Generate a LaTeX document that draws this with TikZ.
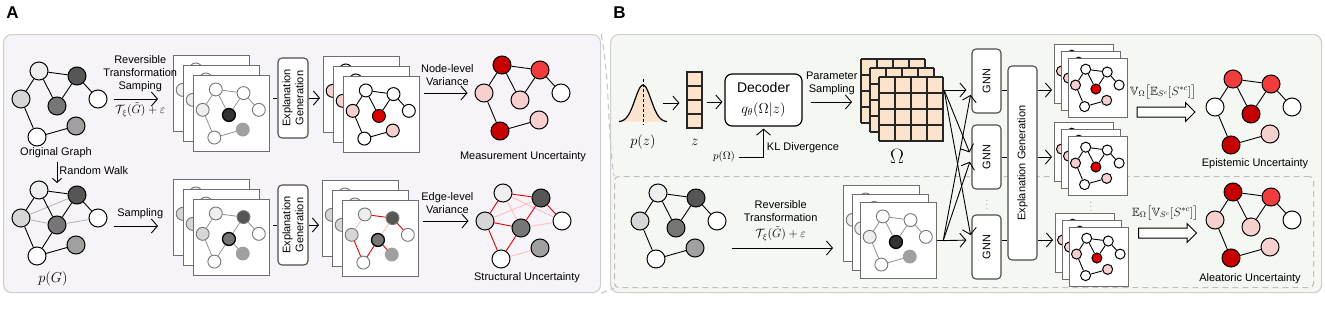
\documentclass[tikz,border=0pt]{standalone}
\usepackage{amsmath,amssymb}
\usepackage{fontspec}
\setsansfont{Liberation Sans}
\usetikzlibrary{arrows.meta,positioning,calc,shapes.arrows}
\definecolor{bgA}{HTML}{F6F4F8}
\definecolor{bgB}{HTML}{F5F8F2}
\definecolor{frm}{HTML}{CFCFCF}
\definecolor{shc}{HTML}{6E6E6E}
\definecolor{bxc}{HTML}{4D4D4D}
\definecolor{g1}{HTML}{EEEEEE}
\definecolor{g2}{HTML}{D6D6D6}
\definecolor{g3}{HTML}{A0A0A0}
\definecolor{g4}{HTML}{767676}
\definecolor{g5}{HTML}{565656}
\definecolor{g6}{HTML}{333333}
\definecolor{pnk}{HTML}{F6CFCF}
\definecolor{rd}{HTML}{F03C3C}
\definecolor{rdk}{HTML}{C60000}
\definecolor{rdd}{HTML}{DD0000}
\definecolor{peach}{HTML}{FCE4CC}

\newcommand{\ugraph}[6]{%
  \begin{scope}[shift={#2}]
    \foreach \k/\px/\py in {1/0/0,2/38/5,3/-18/28,4/18/35,5/59/28,6/37/55,7/-2/66}
      \coordinate (#1p\k) at ({(#3)*(\px)},{(#3)*(\py)});
    \foreach \k/\fc/\ns in {#5}
      \node[vtx,\ns,minimum size=#4,fill=\fc] (#1\k) at (#1p\k) {};
    \foreach \a/\b/\ec in {#6}
      \draw[\ec] (#1\a) -- (#1\b);
  \end{scope}}

\newcommand{\gstack}[6]{%
  \foreach \l in {0,1,2}{
    \node[sheet,minimum size=#3,anchor=north west] (#1s\l) at ($#2+(\l*#4,\l*#4)$) {};
    \ugraph{#1\l}{($(#1s\l.north west)+(0.3*#3,0.19*#3)$)}{0.0096*#3}{0.17*#3}{#5}{#6}
  }}

\begin{document}
\begin{tikzpicture}[x=1pt,y=-1pt,
  every node/.style={font=\sffamily\fontsize{11}{13}\selectfont},
  panel/.style={draw=frm,line width=1.2pt,rounded corners=8pt,anchor=north west,inner sep=0},
  dbox/.style={draw=black!25,dashed,dash pattern=on 6pt off 4pt,line width=1.1pt,rounded corners=4pt,anchor=north west,inner sep=0},
  zln/.style={draw=black!22,dashed,dash pattern=on 6pt off 4pt,line width=1.1pt},
  sheet/.style={draw=shc,line width=1.2pt,fill=white,inner sep=0},
  vtx/.style={circle,inner sep=0},
  vB/.style={draw=black,line width=1pt},
  vG/.style={draw=g4,line width=0.9pt},
  vK/.style={draw=black,line width=1.3pt},
  vN/.style={draw=g3,line width=0.9pt},
  eBk/.style={draw=black,line width=0.9pt},
  eGy/.style={draw=g4!80,line width=0.8pt},
  eRd/.style={draw=red!90!black,line width=0.9pt},
  ePk/.style={draw=red!25,line width=0.9pt},
  eLt/.style={draw=black!30,line width=0.8pt},
  arr/.style={-{Straight Barb[length=6pt,width=14pt]},line width=0.9pt},
  sarr/.style={-{Straight Barb[length=4pt,width=9pt]},line width=0.9pt},
  rbox/.style={draw=bxc,line width=1.1pt,rounded corners=4pt,fill=white,inner sep=0,rotate=90,align=center},
  cell/.style={draw=black!85,line width=1.1pt,fill=peach,minimum width=15,minimum height=14,inner sep=0},
  omg/.style={draw=black!85,line width=1.1pt,fill=peach,minimum size=64,inner sep=0,anchor=north west},
  hol/.style={single arrow,draw=black,line width=1pt,fill=white,minimum height=58,inner xsep=0,inner ysep=4.5pt,single arrow head extend=4.5pt},
  mth/.style={font=\fontsize{15}{15}\selectfont}]
\useasboundingbox (0,0) rectangle (1325,324);

\node[panel,fill=bgA,minimum width=597,minimum height=258] (pA) at (3,34) {};
\node[panel,fill=bgB,minimum width=711,minimum height=258] (pB) at (610,34) {};
\node[dbox,minimum width=699,minimum height=111] (db) at (614,176) {};
\draw[zln] (pA.north east) to[out=-80,in=98] (db.north west);
\draw[zln] (pA.south east) -- (db.south west);
\node[font=\sffamily\bfseries\fontsize{17}{17}\selectfont] (lA) at (12.5,12.5) {A};
\node[font=\sffamily\bfseries\fontsize{17}{17}\selectfont] (lB) at (619.5,12.5) {B};

\ugraph{og}{(39,71)}{1}{18}{1/g1/vB,2/g5/vB,3/g2/vB,4/g4/vB,5/white/vB,6/g3/vB,7/white/vB}{1/2/eBk,1/3/eBk,1/4/eBk,2/4/eBk,2/5/eBk,3/7/eBk,7/6/eBk}
\node (oglab) at (56,153) {Original Graph};
\coordinate (rw) at (57,183);
\draw[sarr] (rw |- oglab.south) -- (rw) node[pos=0.4,right=1pt,inner sep=1pt] {Random Walk};

\gstack{sA}{(173,55)}{76}{10}{1/white/vG,2/white/vG,3/g1/vG,4/g6/vK,5/white/vG,6/g3/vN,7/white/vG}{1/2/eGy,1/3/eGy,1/4/eGy,2/4/eGy,2/5/eGy,3/7/eGy,7/6/eGy}
\draw[arr,shorten <=6pt,shorten >=15pt] (og5.east) -- (sAs0.west |- og5.east)
  node[midway,above=3pt,align=center] {Reversible\\Transformation\\Samping}
  node[midway,below=3pt,inner sep=0,font=\fontsize{12}{12}\selectfont] {$\mathcal{T}_{\kern1pt\xi}(\tilde{G})+\varepsilon$};
\node[rbox,minimum width=80,minimum height=30] (exA) at (293,98) {Explanation\\Generation};
\draw[line width=0.9pt,shorten <=3pt] (sAs2.east |- exA.north) -- (exA.north);
\gstack{sR}{(323,56)}{76}{10}{1/white/vB,2/white/vB,3/pnk/vB,4/rdd/vB,5/white/vB,6/pnk/vB,7/white/vB}{1/2/eBk,1/3/eBk,1/4/eBk,2/4/eBk,2/5/eBk,3/7/eBk,7/6/eBk}
\draw[arr,shorten >=3pt] (exA.south) -- (sRs0.west |- exA.south);

\ugraph{mu}{(502,65)}{1}{18}{1/rdk/vB,2/rd/vB,3/pnk/vB,4/pnk/vB,5/white/vB,6/pnk/vB,7/rdk/vB}{1/2/eBk,1/3/eBk,1/4/eBk,2/4/eBk,2/5/eBk,3/7/eBk,7/6/eBk}
\node (mulab) at (523,157) {Measurement Uncertainty};
\draw[arr,shorten <=4pt,shorten >=7pt] (sRs2.east |- mu3) -- (mu3.west)
  node[midway,above=4pt,align=center] {Node-level\\Variance};

\ugraph{pg}{(39,190)}{1}{18}{1/g1/vB,2/g5/vB,3/g2/vB,4/g4/vB,5/white/vB,6/g3/vB,7/white/vB}{3/2/eLt,3/4/eLt,4/5/eLt,1/2/eBk,1/3/eBk,1/4/eBk,2/4/eBk,2/5/eBk,3/7/eBk,7/4/eBk,7/6/eBk}
\node[mth] (pglab) at (53,279) {$p(G)$};

\gstack{sC}{(173,179)}{76}{10}{1/g1/vG,2/g5/vG,3/g2/vG,4/g4/vK,5/white/vG,6/g3/vN,7/white/vG}{1/2/eGy,1/3/eGy,2/4/eGy,2/5/eGy,3/7/eGy,7/4/eGy,4/6/eGy}
\draw[arr,shorten <=6pt,shorten >=15pt] (pg5.east |- 0,226) -- (sCs0.west |- 0,226)
  node[midway,above=3pt] {Sampling};
\node[rbox,minimum width=80,minimum height=30] (exB) at (293,225) {Explanation\\Generation};
\draw[line width=0.9pt,shorten <=3pt] (sCs2.east |- exB.north) -- (exB.north);
\gstack{sS}{(322,180)}{76}{10}{1/g1/vG,2/g5/vG,3/g2/vG,4/g4/vK,5/white/vG,6/g3/vN,7/white/vG}{1/2/eRd,1/3/ePk,2/4/ePk,2/5/eRd,3/7/eRd,7/4/eRd,4/6/eRd}
\draw[arr,shorten >=3pt] (exB.south) -- (sSs0.west |- exB.south);

\ugraph{st}{(503,193)}{1}{18}{1/g1/vB,2/g5/vB,3/g2/vB,4/g4/vB,5/white/vB,6/g3/vB,7/white/vB}{1/4/ePk,1/5/ePk,3/2/ePk,4/5/ePk,7/6/ePk,1/2/eRd,1/3/eRd,2/4/eRd,2/5/eRd,3/7/eRd,7/4/eRd,3/4/eRd}
\node (stlab) at (527,278) {Structural Uncertainty};
\draw[arr,shorten <=4pt,shorten >=7pt] (sSs2.east |- st3) -- (st3.west)
  node[midway,above=4pt,align=center] {Edge-level\\Variance};

\fill[peach] plot[domain=-24:24,samples=60] ({643+\x},{122-37*exp(-(\x*\x)/128)}) -- cycle;
\draw[line width=1.2pt] plot[domain=-24:24,samples=60] ({643+\x},{122-37*exp(-(\x*\x)/128)});
\draw[dashed,dash pattern=on 3pt off 2pt,line width=0.8pt] (643,79) -- (643,125);
\node[minimum width=40,minimum height=44,inner sep=0] (gs) at (643,103) {};
\node[mth] (pz) at (643,142) {$p(z)$};
\foreach \i in {0,...,3}
  \node[cell] (z\i) at (694.5,{79+14*\i}) {};
\node[mth] (zlab) at (695,142) {$z$};
\draw[arr,shorten >=7pt] (gs.east) -- (z0.west |- gs.east);
\node[draw,line width=1.2pt,rounded corners=7pt,fill=white,minimum width=77,minimum height=52,align=center,
  font=\sffamily\fontsize{14}{21}\selectfont] (dec) at (763.5,100) {Decoder\\$q_\theta(\Omega|z)$};
\draw[arr,shorten <=4pt,shorten >=2pt] (z1.east |- 0,102) -- (dec.west |- 0,102);
\node[font=\fontsize{11}{11}\selectfont] (pO) at (724,157) {$p(\Omega)$};
\draw[arr,shorten >=2pt] (pO.east) -| (dec.south) node[pos=0.66,right=2pt,inner sep=1pt] {KL Divergence};
\foreach \l in {0,1,2}{
  \node[omg] (om\l) at ({861+9*\l},{59+9*\l}) {};
  \begin{scope}[shift={(om\l.north west)}]
    \draw[draw=black!85,line width=1.1pt] (0pt,0pt) grid[step=16pt] (64pt,-64pt);
  \end{scope}
}
\node[font=\fontsize{20}{20}\selectfont] (omlab) at (897,156) {$\Omega$};
\draw[arr,shorten <=8pt,shorten >=9pt] (dec.east |- 0,102) -- (om0.west |- 0,102)
  node[midway,above=3pt,align=center] {Parameter\\Sampling};

\ugraph{bg}{(658,193)}{1}{18}{1/g1/vB,2/g5/vB,3/g2/vB,4/g4/vB,5/white/vB,6/g3/vB,7/white/vB}{1/2/eBk,1/3/eBk,1/4/eBk,2/4/eBk,2/5/eBk,3/7/eBk,7/6/eBk}
\gstack{sD}{(843,185)}{76}{8.5}{1/white/vG,2/white/vG,3/g1/vG,4/g6/vK,5/white/vG,6/g3/vN,7/white/vG}{1/2/eGy,1/3/eGy,1/4/eGy,2/4/eGy,2/5/eGy,3/7/eGy,7/6/eGy}
\draw[arr,shorten <=27pt,shorten >=10pt] (bg6.east) -- (sDs0.west |- bg6.east)
  node[pos=0.55,above=3pt,align=center] {Reversible\\Transformation\\[3pt]{\fontsize{12}{13}\selectfont$\mathcal{T}_{\kern1pt\xi}(\tilde{G})+\varepsilon$}};

\foreach \g/\yy in {1/81,2/157,3/247}
  \node[rbox,minimum width=64,minimum height=29] (gnn\g) at (986.5,\yy) {GNN};
\node[font=\scriptsize] (gd) at (987,202) {$\vdots$};
\node[rbox,minimum width=194,minimum height=29] (exC) at (1022.5,163) {Explanation Generation};
\coordinate (fa) at (om2.east |- 0,90);
\coordinate (fb) at ($(sDs2.east)+(6,0)$);
\draw[line width=0.9pt] (sDs2.east) -- (fb);
\foreach \g/\yy in {1/90,2/157,3/240}{
  \draw[arr,shorten >=5pt] (fa) -- (gnn\g.north |- 0,\yy);
  \draw[arr,shorten >=5pt] (fb) -- (gnn\g.north |- 0,\yy);
  \draw[line width=0.9pt] (gnn\g.south |- 0,\yy) -- (exC.north |- 0,\yy);
}

\gstack{oa}{(1054,44)}{59}{7}{1/white/vB,2/white/vB,3/pnk/vB,4/rdd/vB,5/white/vB,6/pnk/vB,7/white/vB}{1/2/eBk,1/3/eBk,1/4/eBk,2/4/eBk,2/5/eBk,3/7/eBk,7/6/eBk}
\gstack{ob}{(1054,122)}{59}{7}{1/white/vB,2/white/vB,3/pnk/vB,4/rdd/vB,5/white/vB,6/pnk/vB,7/white/vB}{1/2/eBk,1/3/eBk,1/4/eBk,2/4/eBk,2/5/eBk,3/7/eBk,7/6/eBk}
\gstack{oc}{(1055,213)}{59}{7}{1/white/vB,2/white/vB,3/pnk/vB,4/rdd/vB,5/white/vB,6/pnk/vB,7/white/vB}{1/2/eBk,1/3/eBk,1/4/eBk,2/4/eBk,2/5/eBk,3/7/eBk,7/6/eBk}
\node[font=\scriptsize] (od) at (1091,204) {$\vdots$};
\foreach \yy/\st in {90/oa,157/ob,240/oc}
  \draw[arr,shorten >=2pt] (exC.south |- 0,\yy) -- (\st s0.west |- 0,\yy);

\node[hol] (ha1) at (1163.5,112) {};
\node[hol] (ha2) at (1165,233) {};
\node[font=\fontsize{12}{12}\selectfont] (vlab) at (1163,92) {$\mathbb{V}_\Omega\big[\mathbb{E}_{S^c}[S^{*c}]\big]$};
\node[font=\fontsize{12}{12}\selectfont] (elab) at (1165,213) {$\mathbb{E}_\Omega\big[\mathbb{V}_{S^c}[S^{*c}]\big]$};

\ugraph{ep}{(1233,79)}{1}{18}{1/rd/vB,2/rd/vB,3/white/vB,4/rdk/vB,5/white/vB,6/pnk/vB,7/rdk/vB}{1/2/eBk,1/3/eBk,1/4/eBk,2/4/eBk,2/5/eBk,3/7/eBk,7/6/eBk}
\node (eplab) at (1255,164) {Epistemic Uncertainty};
\ugraph{al}{(1233,192)}{1}{18}{1/rdk/vB,2/rd/vB,3/pnk/vB,4/pnk/vB,5/white/vB,6/pnk/vB,7/rdk/vB}{1/2/eBk,1/3/eBk,1/4/eBk,2/4/eBk,2/5/eBk,3/7/eBk,7/6/eBk}
\node (allab) at (1250,279) {Aleatoric Uncertainty};
\end{tikzpicture}
\end{document}
